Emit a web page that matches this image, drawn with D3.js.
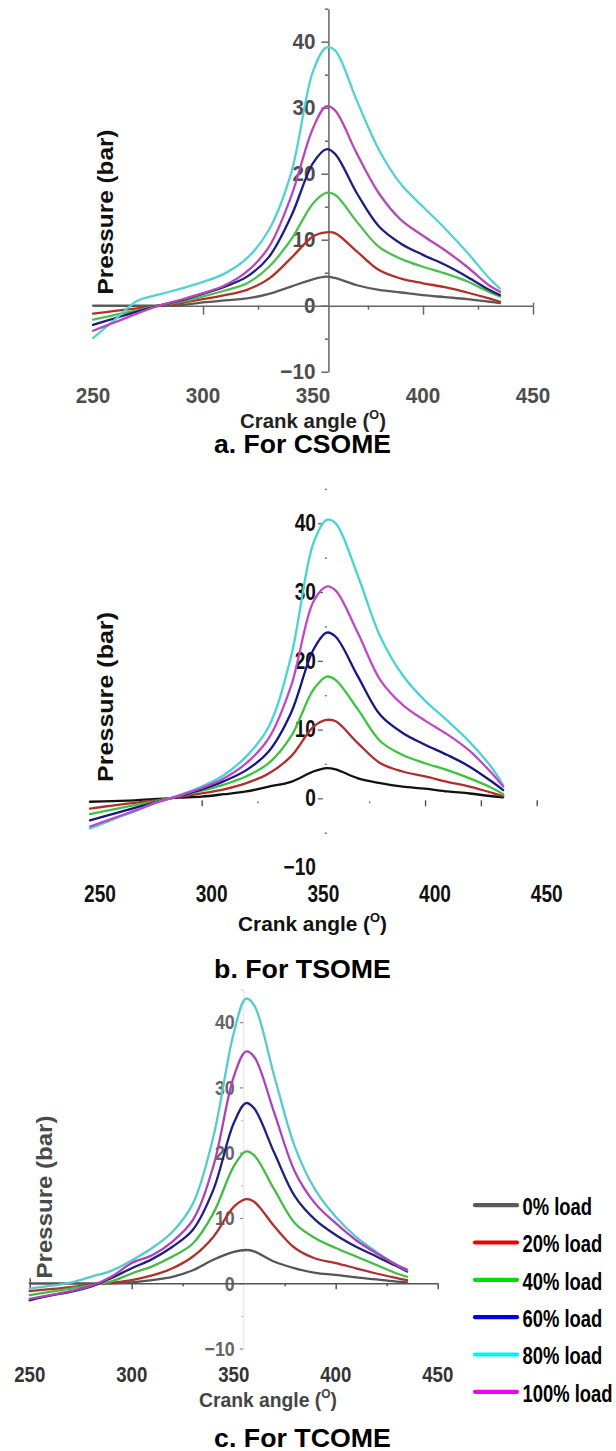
<!DOCTYPE html>
<html>
<head>
<meta charset="utf-8">
<script src="https://cdn.jsdelivr.net/npm/d3@7"></script>
<style>
  html, body { margin: 0; padding: 0; background: #fff; }
  svg { display: block; }
</style>
</head>
<body>
<div id="chart"></div>
<script>
// ---------------- DATA ----------------
const crankAngles = [250, 260, 270, 280, 290, 300, 310, 320, 330, 340, 350, 356, 360, 370, 380, 390, 400, 410, 420, 430, 435];
const loadLabels = ["0% load", "20% load", "40% load", "60% load", "80% load", "100% load"];
const xTickValues = [250, 300, 350, 400, 450];
const yTickValues = [-10, 0, 10, 20, 30, 40];
const panelTitles = ["a. For CSOME", "b. For TSOME", "c. For TCOME"];

// Pressure (bar) per load, panel a (CSOME)
const csomePressure = [
  [0, 0, 0, 0, 0.1, 0.5, 0.8, 1.1, 1.8, 2.9, 4.0, 4.4, 4.2, 3.1, 2.4, 2.0, 1.6, 1.3, 1.0, 0.6, 0.4],
  [-1.2, -0.8, -0.4, 0, 0.4, 1.0, 1.6, 2.4, 4.1, 7.2, 10.5, 11.1, 11.0, 8.2, 5.4, 4.1, 3.4, 2.8, 2.0, 1.1, 0.6],
  [-2.1, -1.4, -0.7, 0, 0.6, 1.4, 2.3, 3.4, 5.9, 10.0, 15.5, 17.1, 16.8, 12.7, 8.9, 7.1, 5.9, 4.9, 3.7, 2.1, 1.4],
  [-2.9, -1.9, -0.9, 0, 0.8, 1.8, 2.9, 4.4, 7.4, 13.5, 21.6, 23.7, 23.0, 17.0, 12.0, 9.4, 7.7, 6.2, 4.4, 2.4, 1.6],
  [-4.9, -2.1, 0.7, 1.7, 2.6, 3.6, 4.9, 7.2, 11.5, 20.0, 35.5, 39.1, 38.7, 31.0, 23.6, 18.4, 15.0, 11.7, 8.1, 4.2, 2.6],
  [-3.8, -2.5, -1.2, 0, 0.9, 1.9, 3.1, 5.2, 8.9, 16.5, 26.9, 30.2, 29.6, 23.0, 17.0, 13.0, 10.6, 8.4, 5.9, 3.1, 2.1]
];
// panel b (TSOME)
const tsomePressure = [
  [-0.5, -0.4, -0.3, -0.1, 0.1, 0.25, 0.6, 1.0, 1.7, 2.4, 3.9, 4.4, 4.2, 2.9, 2.2, 1.7, 1.4, 1.0, 0.7, 0.3, 0.15],
  [-1.5, -1.05, -0.65, -0.25, 0.2, 0.7, 1.3, 2.2, 3.6, 6.1, 10.4, 11.4, 11.2, 8.0, 5.1, 3.9, 3.2, 2.4, 1.7, 0.8, 0.3],
  [-2.3, -1.65, -1.0, -0.4, 0.3, 1.1, 2.0, 3.2, 5.1, 9.0, 15.8, 17.7, 17.2, 12.9, 8.3, 6.3, 5.1, 4.1, 2.9, 1.5, 0.6],
  [-3.2, -2.3, -1.4, -0.5, 0.35, 1.3, 2.5, 4.1, 6.8, 12.4, 21.6, 24.1, 23.5, 17.7, 12.1, 9.5, 7.8, 6.3, 4.6, 2.4, 1.2],
  [-4.4, -3.1, -1.9, -0.6, 0.45, 1.7, 3.4, 6.1, 10.4, 20.6, 37.1, 40.5, 40.0, 32.3, 23.5, 17.9, 14.2, 11.3, 8.2, 4.4, 1.9],
  [-4.1, -2.95, -1.8, -0.6, 0.4, 1.5, 2.9, 5.1, 8.7, 16.3, 28.6, 30.8, 30.2, 24.0, 17.2, 13.6, 11.3, 9.3, 6.9, 3.6, 1.7]
];
// panel c (TCOME)
const tcomePressure = [
  [0, 0, 0, 0, 0, 0.15, 0.5, 1.0, 2.0, 3.6, 4.8, 5.1, 4.9, 3.3, 2.3, 1.6, 1.3, 0.9, 0.6, 0.25, 0.15],
  [-1.2, -0.9, -0.6, -0.2, 0.1, 0.5, 1.2, 2.3, 4.1, 7.1, 11.7, 12.9, 12.5, 8.7, 5.4, 3.8, 3.1, 2.3, 1.5, 0.8, 0.5],
  [-1.8, -1.3, -0.8, -0.3, 0.3, 1.5, 2.6, 4.1, 6.1, 10.7, 17.9, 20.2, 19.6, 14.3, 9.2, 6.9, 5.4, 4.1, 2.8, 1.5, 1.0],
  [-2.6, -1.9, -1.3, -0.5, 0.8, 2.3, 3.7, 5.6, 8.2, 14.3, 24.5, 27.6, 26.8, 19.9, 13.3, 9.7, 7.4, 5.6, 4.1, 2.6, 1.8],
  [-0.8, -0.4, 0.1, 1.0, 1.9, 3.5, 5.4, 7.9, 12.2, 22.4, 38.3, 43.6, 42.6, 31.6, 20.9, 14.3, 10.2, 7.1, 4.8, 2.8, 2.0],
  [-2.4, -1.8, -1.2, -0.4, 1.0, 3.1, 4.3, 6.4, 9.7, 17.9, 31.6, 35.5, 34.7, 26.0, 17.1, 12.2, 9.2, 6.6, 4.6, 2.8, 2.1]
];

// ---------------- STYLE / LAYOUT ----------------
const FONT = "'Liberation Sans', Arial, Helvetica, sans-serif";
const W = 616, H = 1451;
const legendColors = ["#5a5a5a", "#f00000", "#00e000", "#0000e0", "#00f4f4", "#f000f0"];

const panels = [
  { data: csomePressure, title: panelTitles[0],
    xr: [93, 533], y0: 305.7, ppu: 6.6, yAxisAt: 357,
    colors: ["#5a5a5a", "#b3302a", "#4cc04c", "#1e1e7e", "#52d2d2", "#b848b8"],
    tickFont: 22, tickCond: 0.94, tickColor: "#4d4d4d", xLabelY: 403, xLabelDx: 0,
    crank: { x: 313, y: 428, len: 146, color: "#222" },
    press: { x: 113, y: 212, len: 165, color: "#111" },
    titleY: 453, style: "a" },
  { data: tsomePressure, title: panelTitles[1],
    xr: [90, 536.7], y0: 798.3, ppu: 6.875, yAxisAt: 355.6,
    colors: ["#111111", "#b02e2e", "#3cc43c", "#16168a", "#48d4d4", "#c048c8"],
    tickFont: 23, tickCond: 0.83, tickColor: "#111", xLabelY: 902, xLabelDx: 10,
    crank: { x: 312.5, y: 931, len: 149, color: "#111" },
    press: { x: 113, y: 697, len: 170, color: "#111" },
    titleY: 978, style: "b" },
  { data: tcomePressure, title: panelTitles[2],
    xr: [29.7, 437.7], y0: 1283.3, ppu: 6.53, yAxisAt: 354.7,
    colors: ["#555555", "#b03030", "#44bb44", "#20207f", "#55cccc", "#b040b8"],
    tickFont: 23, tickCond: 0.81, tickColor: "#333", xLabelY: 1382, xLabelDx: 0,
    crank: { x: 268, y: 1407, len: 138, color: "#444" },
    press: { x: 52, y: 1197, len: 163, color: "#4a4a4a" },
    titleY: 1447, style: "c" }
];

const svg = d3.select("#chart").append("svg")
  .attr("width", W).attr("height", H)
  .attr("viewBox", `0 0 ${W} ${H}`);
svg.append("rect").attr("width", W).attr("height", H).attr("fill", "#fff");

// horizontally squeeze a text (keeps its anchor point) by transform
function squeeze(sel, f) {
  sel.each(function () {
    const t = d3.select(this);
    const x = +t.attr("x") || 0, y = +t.attr("y") || 0;
    const prev = t.attr("transform") || "";
    t.attr("x", 0).attr("y", 0)
      .attr("transform", `${prev} translate(${x},${y}) scale(${f},1)`);
  });
}
// squeeze / stretch a text so that it has a given width
function fitLen(sel, len) {
  sel.each(function () {
    const l = this.getComputedTextLength();
    squeeze(d3.select(this), len / l);
  });
}
const fmt = v => v < 0 ? "\u2212" + Math.abs(v) : String(v);

panels.forEach(p => {
  const g = svg.append("g");
  const x = d3.scaleLinear().domain([250, 450]).range(p.xr);
  const y = d3.scaleLinear().domain([-10, 45]).range([p.y0 + 10 * p.ppu, p.y0 - 45 * p.ppu]);
  const ax = x(p.yAxisAt);
  const minorY = [-5, 5, 15, 25, 35, 45];

  // ---------- axes ----------
  if (p.style === "a") {
    const yAx = g.append("g").attr("transform", `translate(${ax},0)`)
      .call(d3.axisLeft(y).tickValues(yTickValues).tickSize(7).tickSizeOuter(0).tickPadding(6).tickFormat(fmt));
    g.append("g").attr("transform", `translate(${ax},0)`)
      .call(d3.axisLeft(y).tickValues(minorY).tickSize(3.5).tickSizeOuter(0).tickFormat(""))
      .select(".domain").remove();
    yAx.select(".domain").attr("stroke", "#666").attr("stroke-width", 1.5);
    g.selectAll(".tick line").attr("stroke", "#666").attr("stroke-width", 1.5);
    yAx.selectAll("text").attr("font-family", FONT).attr("font-weight", "bold")
      .attr("font-size", p.tickFont).attr("fill", p.tickColor).call(squeeze, p.tickCond);

    const xAx = g.append("g").attr("transform", `translate(0,${y(0)})`)
      .call(d3.axisBottom(x).tickValues([300, 400, 450]).tickSize(9).tickSizeOuter(0).tickFormat(""));
    xAx.select(".domain").attr("stroke", "#666").attr("stroke-width", 1.5);
    g.append("g").attr("transform", `translate(0,${y(0)})`)
      .call(d3.axisBottom(x).tickValues([275, 325, 375, 425]).tickSize(4).tickSizeOuter(0).tickFormat(""))
      .select(".domain").remove();
    g.append("g").attr("transform", `translate(0,${y(0)})`)
      .call(d3.axisTop(x).tickValues([450]).tickSize(3).tickSizeOuter(0).tickFormat(""))
      .select(".domain").remove();
    g.selectAll(".tick line").attr("stroke", "#666").attr("stroke-width", 1.5);
  } else if (p.style === "b") {
    const yAx = g.append("g").attr("transform", `translate(${ax},0)`)
      .call(d3.axisLeft(y).tickValues(yTickValues).tickSize(8).tickSizeOuter(0).tickPadding(2).tickFormat(fmt));
    yAx.select(".domain").remove();
    yAx.selectAll(".tick line").attr("x1", -3).attr("stroke", "#555").attr("stroke-width", 1.2)
      .filter(d => d === -10).remove();
    yAx.selectAll("text").attr("font-family", FONT).attr("font-weight", "bold")
      .attr("font-size", p.tickFont).attr("fill", p.tickColor).call(squeeze, p.tickCond);
    g.append("g").attr("transform", `translate(${ax + 1},0)`)
      .call(d3.axisLeft(y).tickValues(minorY).tickSize(2).tickSizeOuter(0).tickFormat(""))
      .call(s => s.select(".domain").remove())
      .selectAll(".tick line").attr("stroke", "#777").attr("stroke-width", 1.5);
    g.append("g").attr("transform", `translate(0,${y(0) + 2})`)
      .call(d3.axisBottom(x).tickValues([300, 400, 425, 450]).tickSize(6).tickSizeOuter(0).tickFormat(""))
      .call(s => s.select(".domain").remove())
      .selectAll(".tick line").attr("stroke", "#444").attr("stroke-width", 1.3);
    g.append("g").attr("transform", `translate(0,${y(0) + 3})`)
      .call(d3.axisBottom(x).tickValues([325, 375]).tickSize(2).tickSizeOuter(0).tickFormat(""))
      .call(s => s.select(".domain").remove())
      .selectAll(".tick line").attr("stroke", "#666").attr("stroke-width", 1.3);
  } else {
    const yAx = g.append("g").attr("transform", `translate(${ax},0)`)
      .call(d3.axisLeft(y).tickValues(yTickValues).tickSize(3.5).tickSizeOuter(0).tickPadding(5).tickFormat(fmt));
    yAx.select(".domain").attr("stroke", "#e2e2e2").attr("stroke-width", 1);
    yAx.selectAll(".tick line").attr("stroke", "#888").attr("stroke-width", 1.2);
    yAx.selectAll("text").attr("font-family", FONT).attr("font-weight", "bold")
      .attr("font-size", 21).attr("fill", "#555").attr("opacity", 0.9).call(squeeze, 0.85);
    g.append("g").attr("transform", `translate(${ax},0)`)
      .call(d3.axisLeft(y).tickValues(minorY).tickSize(2).tickSizeOuter(0).tickFormat(""))
      .call(s => s.select(".domain").remove())
      .selectAll(".tick line").attr("stroke", "#bbb").attr("stroke-width", 1.2);
    const xAx = g.append("g").attr("transform", `translate(0,${y(0)})`)
      .call(d3.axisBottom(x).tickValues([250, 300, 400, 450]).tickSize(6).tickSizeOuter(0).tickFormat(""));
    xAx.select(".domain").attr("stroke", "#555").attr("stroke-width", 1.6);
    xAx.selectAll(".tick line").attr("stroke", "#555").attr("stroke-width", 1.5);
    g.append("g").attr("transform", `translate(0,${y(0)})`)
      .call(d3.axisBottom(x).tickValues([325, 375, 425]).tickSize(3).tickSizeOuter(0).tickFormat(""))
      .call(s => s.select(".domain").remove())
      .selectAll(".tick line").attr("stroke", "#555").attr("stroke-width", 1.5);
    g.append("g").attr("transform", `translate(0,${y(0)})`)
      .call(d3.axisTop(x).tickValues([250]).tickSize(5).tickSizeOuter(0).tickFormat(""))
      .call(s => s.select(".domain").remove())
      .selectAll(".tick line").attr("stroke", "#555").attr("stroke-width", 1.5);
  }

  // ---------- x tick labels ----------
  g.append("g").selectAll("text").data(xTickValues).join("text")
    .attr("x", d => x(d) + p.xLabelDx).attr("y", p.xLabelY)
    .attr("text-anchor", "middle")
    .attr("font-family", FONT).attr("font-weight", "bold")
    .attr("font-size", p.tickFont).attr("fill", p.tickColor)
    .text(d => d)
    .call(squeeze, p.tickCond);

  // ---------- curves ----------
  const line = d3.line()
    .x((d, i) => x(crankAngles[i]))
    .y(d => y(d))
    .curve(d3.curveCatmullRom.alpha(0.5));
  g.append("g").selectAll("path").data(p.data).join("path")
    .attr("d", d => line(d))
    .attr("fill", "none")
    .attr("stroke", (d, i) => p.colors[i])
    .attr("stroke-width", 2.3)
    .attr("stroke-linejoin", "round")
    .attr("stroke-linecap", "round");

  // ---------- axis titles ----------
  const ct = g.append("text")
    .attr("x", p.crank.x).attr("y", p.crank.y)
    .attr("text-anchor", "middle")
    .attr("font-family", FONT).attr("font-weight", "bold")
    .attr("font-size", 21).attr("fill", p.crank.color);
  ct.append("tspan").text("Crank angle (");
  ct.append("tspan").attr("font-size", 13).attr("dy", -9).text("O");
  ct.append("tspan").attr("dy", 9).text(")");
  fitLen(ct, p.crank.len);

  g.append("text")
    .attr("transform", `translate(${p.press.x},${p.press.y}) rotate(-90)`)
    .attr("text-anchor", "middle")
    .attr("font-family", FONT).attr("font-weight", "bold")
    .attr("font-size", 22).attr("fill", p.press.color)
    .text("Pressure (bar)")
    .call(fitLen, p.press.len);

  // ---------- panel title ----------
  g.append("text")
    .attr("x", 302.5).attr("y", p.titleY)
    .attr("text-anchor", "middle")
    .attr("font-family", FONT).attr("font-weight", "bold")
    .attr("font-size", 25).attr("fill", "#000")
    .text(p.title)
    .call(fitLen, 177);
});

// ---------------- LEGEND ----------------
const legendY = d3.scalePoint().domain(loadLabels).range([1206.7, 1393.3]);
const lg = svg.append("g");
const rows = lg.selectAll("g").data(loadLabels).join("g")
  .attr("transform", d => `translate(0,${legendY(d)})`);
rows.append("line")
  .attr("x1", 475).attr("x2", 517).attr("y1", -1.5).attr("y2", -1.5)
  .attr("stroke", (d, i) => legendColors[i])
  .attr("stroke-width", 4.2).attr("stroke-linecap", "round");
rows.append("text")
  .attr("x", 522.5).attr("y", 8.3)
  .attr("font-family", FONT).attr("font-weight", "bold")
  .attr("font-size", 23).attr("fill", "#000")
  .text(d => d)
  .call(squeeze, 0.8);
</script>
</body>
</html>
